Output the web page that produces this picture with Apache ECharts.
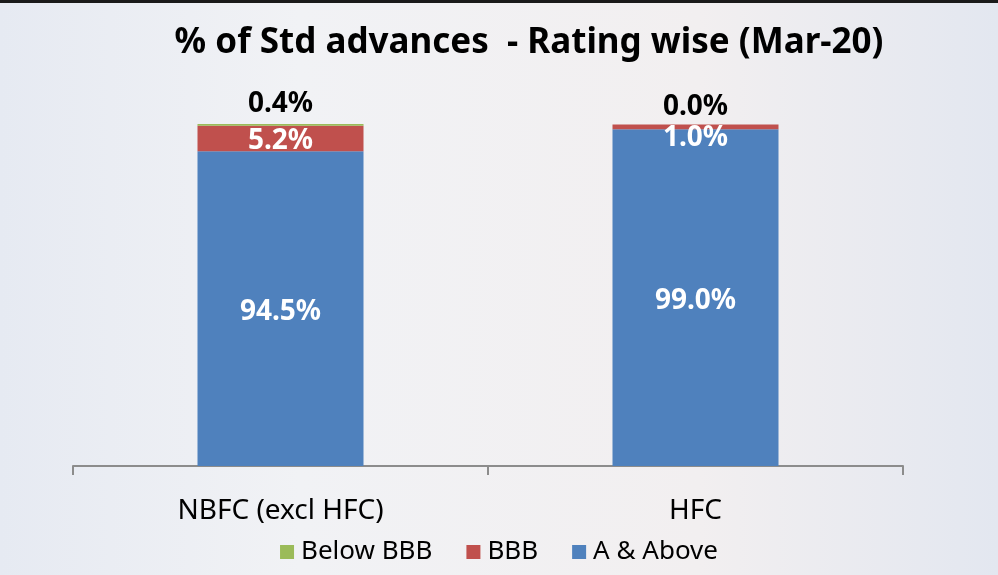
<!DOCTYPE html>
<html>
<head>
<meta charset="utf-8">
<script src="https://cdn.jsdelivr.net/npm/echarts@6/dist/echarts.min.js"></script>
<style>
  html, body { margin: 0; padding: 0; }
  #wrap { position: relative; width: 998px; height: 575px; }
  #chart { width: 998px; height: 575px; }
  #edge { position: absolute; left: 0; top: 0; width: 998px; height: 3px; background: #1a1a1a; }
</style>
</head>
<body>
<div id="wrap">
  <div id="chart"></div>
  <div id="edge"></div>
</div>
<script>
// categories and values (% of standard advances)
const categories = ['NBFC (excl HFC)', 'HFC']
const aAndAbove = [94.5, 99.0]
const bbb = [5.2, 1.0]
const belowBbb = [0.4, 0.0]

const font = '"Noto Sans", sans-serif'
const fmt = p => p.value.toFixed(1) + '%'

const chart = echarts.init(document.getElementById('chart'))
chart.setOption({
  backgroundColor: {
    type: 'linear', x: 0, y: 0, x2: 1, y2: 0,
    colorStops: [
      { offset: 0, color: '#e6eaf2' },
      { offset: 0.3, color: '#f1f2f5' },
      { offset: 0.7, color: '#f2eff0' },
      { offset: 1, color: '#e3e7f0' }
    ]
  },
  title: {
    text: '% of Std advances  - Rating wise (Mar-20)',
    left: 524, top: 21, textAlign: 'center',
    textStyle: { fontFamily: font, fontWeight: 'bold', fontSize: 35, color: '#000' }
  },
  legend: {
    data: ['Below BBB', 'BBB', 'A & Above'],
    bottom: 5, left: 'center',
    icon: 'rect', itemWidth: 14, itemHeight: 14, itemGap: 34,
    textStyle: { fontFamily: font, fontSize: 26, color: '#000', padding: [0, 0, 0, 2] }
  },
  grid: { left: 73, right: 95, top: 75.6, bottom: 109 },
  xAxis: {
    type: 'category', data: categories,
    axisLine: { lineStyle: { color: '#8c8c8c', width: 2 } },
    axisTick: { show: true, length: 9, lineStyle: { color: '#8c8c8c', width: 2 } },
    axisLabel: { fontFamily: font, fontSize: 28, color: '#000', margin: 31 }
  },
  yAxis: { type: 'value', min: 30, max: 110, show: false },
  series: [
    {
      name: 'A & Above', type: 'bar', stack: 'r', barWidth: '40%',
      data: aAndAbove, itemStyle: { color: '#4f81bd' },
      label: { show: true, position: 'inside', offset: [0, 3], formatter: fmt, fontFamily: font, fontWeight: 'bold', fontSize: 28, color: '#fff' }
    },
    {
      name: 'BBB', type: 'bar', stack: 'r',
      data: [bbb[0], { value: bbb[1], label: { offset: [0, 11] } }],
      itemStyle: { color: '#c0504d' },
      label: { show: true, position: 'inside', offset: [0, 2], formatter: fmt, fontFamily: font, fontWeight: 'bold', fontSize: 28, color: '#fff' }
    },
    {
      name: 'Below BBB', type: 'bar', stack: 'r',
      data: [{ value: belowBbb[0], label: { distance: 6 } }, { value: belowBbb[1], label: { distance: 3 } }],
      itemStyle: { color: '#9bbb59' },
      label: { show: true, position: 'top', formatter: fmt, fontFamily: font, fontWeight: 'bold', fontSize: 28, color: '#000' }
    }
  ]
})
</script>
</body>
</html>
